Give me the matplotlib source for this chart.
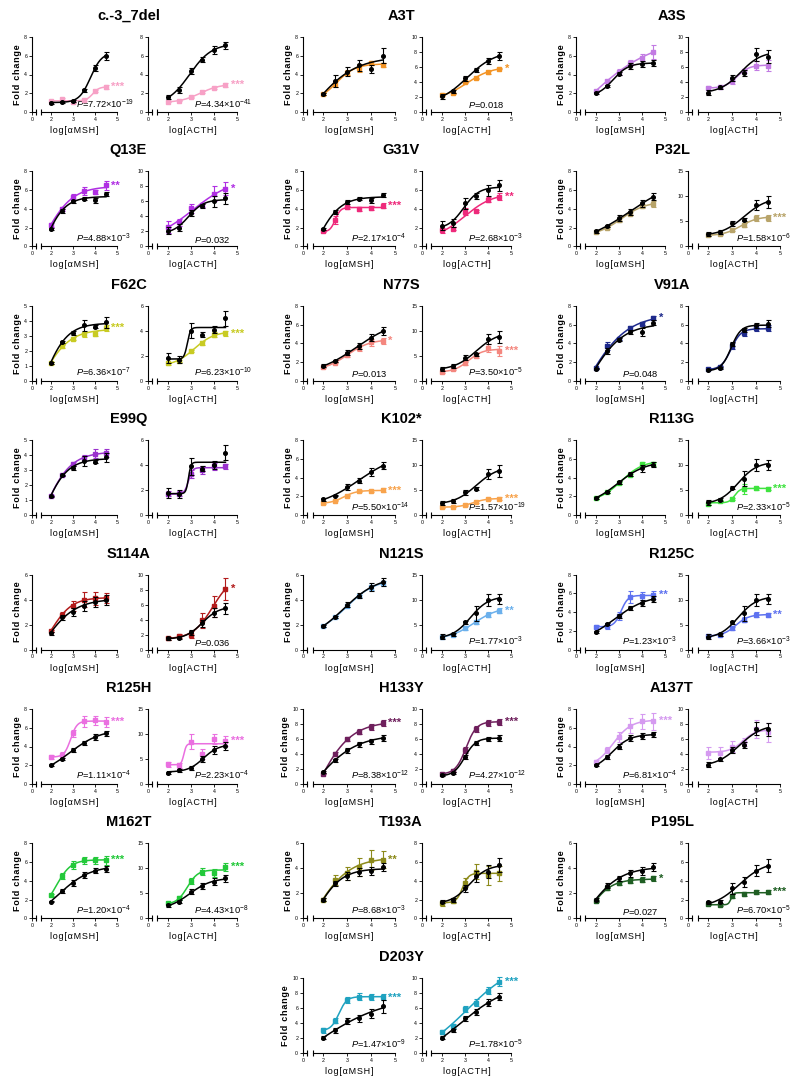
import numpy as np
import matplotlib
matplotlib.use("Agg")
import matplotlib.pyplot as plt

plt.rcParams['font.family'] = ['Liberation Sans', 'DejaVu Sans']
plt.rcParams['mathtext.fontset'] = 'custom'
plt.rcParams['mathtext.rm'] = 'Liberation Sans'
plt.rcParams['mathtext.it'] = 'Liberation Sans:italic'

# ---------------- data ----------------
doses = [2.0, 2.5, 3.0, 3.5, 4.0, 4.5]

variants = ["c.-3_7del", "A3T", "A3S", "Q13E", "G31V", "P32L", "F62C", "N77S", "V91A",
            "E99Q", "K102*", "R113G", "S114A", "N121S", "R125C", "R125H", "H133Y", "A137T",
            "M162T", "T193A", "P195L", "D203Y"]

colors = ["#F7A1C6", "#F39425", "#C27BE3", "#B02FE3", "#EE2A7B", "#B8A46A", "#C8CB23", "#F4877F",
          "#1E2A8C", "#9A32CD", "#F8A34C", "#3FE33F", "#B21B1B", "#6BB0EC", "#5E72F0", "#EA6FE0",
          "#6E1F5C", "#D59AF0", "#23C93A", "#8C8A1A", "#1F5E23", "#1FA2C0"]

msh_wt = [
    [1.0, 1.1, 1.15, 2.3, 4.7, 6.0], [1.9, 3.3, 4.3, 5.0, 4.6, 6.0], [2.0, 2.75, 4.1, 4.9, 5.1, 5.25],
    [1.9, 3.8, 4.8, 5.1, 4.9, 5.6], [1.9, 3.7, 4.7, 5.1, 4.9, 5.5], [1.6, 2.15, 3.0, 3.7, 4.6, 5.3],
    [1.2, 2.6, 3.2, 3.7, 3.6, 3.9], [1.6, 2.1, 3.0, 3.7, 4.6, 5.3], [1.3, 3.2, 4.4, 5.2, 5.2, 6.2],
    [1.25, 2.65, 3.15, 3.6, 3.55, 3.85], [1.7, 2.1, 3.0, 3.7, 4.6, 5.3], [1.85, 2.5, 3.5, 4.4, 5.0, 5.4],
    [1.3, 2.6, 3.0, 3.5, 3.8, 4.0], [1.9, 2.6, 3.6, 4.3, 5.0, 5.4], [1.9, 2.7, 3.6, 4.4, 5.0, 5.4],
    [2.0, 2.7, 3.6, 4.4, 5.0, 5.4], [1.6, 3.2, 4.5, 5.3, 5.7, 6.2], [2.0, 2.9, 4.0, 4.9, 5.1, 5.3],
    [1.8, 2.9, 3.8, 4.6, 5.1, 5.3], [1.5, 2.8, 3.4, 3.7, 3.8, 4.1], [1.5, 2.6, 3.2, 3.6, 3.8, 4.1],
    [2.0, 3.0, 4.3, 4.6, 5.2, 6.2]]
msh_wt_err = [
    [0.1, 0.1, 0.1, 0.15, 0.3, 0.4], [0.1, 0.6, 0.5, 0.6, 0.4, 0.8], [0.1, 0.1, 0.2, 0.3, 0.3, 0.3],
    [0.1, 0.2, 0.2, 0.2, 0.3, 0.2], [0.1, 0.2, 0.2, 0.2, 0.3, 0.2], [0.2, 0.1, 0.3, 0.3, 0.4, 0.4],
    [0.05, 0.05, 0.15, 0.35, 0.1, 0.35], [0.15, 0.1, 0.3, 0.3, 0.4, 0.4], [0.05, 0.3, 0.2, 0.2, 0.4, 0.3],
    [0.05, 0.05, 0.15, 0.35, 0.1, 0.3], [0.15, 0.1, 0.3, 0.3, 0.4, 0.4], [0.1, 0.1, 0.2, 0.2, 0.4, 0.3],
    [0.1, 0.2, 0.3, 0.4, 0.4, 0.4], [0.1, 0.1, 0.2, 0.2, 0.3, 0.3], [0.1, 0.1, 0.2, 0.2, 0.3, 0.3],
    [0.1, 0.1, 0.2, 0.2, 0.3, 0.3], [0.1, 0.2, 0.3, 0.3, 0.3, 0.4], [0.1, 0.2, 0.3, 0.3, 0.3, 0.3],
    [0.1, 0.2, 0.3, 0.3, 0.3, 0.3], [0.1, 0.2, 0.3, 0.3, 0.3, 0.3], [0.1, 0.2, 0.2, 0.3, 0.3, 0.3],
    [0.2, 0.3, 0.4, 0.5, 0.6, 0.9]]
msh_var = [
    [1.15, 1.35, 1.05, 1.3, 2.2, 2.65], [1.9, 3.0, 4.2, 4.7, 5.2, 5.0], [2.25, 3.3, 4.3, 5.2, 5.8, 6.4],
    [2.3, 4.0, 5.3, 5.9, 5.8, 6.5], [1.6, 2.8, 4.15, 4.0, 4.1, 4.35], [1.5, 2.0, 2.8, 3.5, 4.3, 4.5],
    [1.2, 2.3, 2.8, 3.1, 3.15, 3.55], [1.45, 1.95, 2.8, 3.5, 4.1, 4.25], [1.35, 3.7, 4.5, 5.6, 6.1, 6.7],
    [1.3, 2.65, 3.4, 3.8, 4.1, 4.15], [1.3, 1.55, 2.1, 2.55, 2.6, 2.65], [1.8, 2.5, 3.4, 4.3, 5.5, 5.5],
    [1.5, 2.8, 3.5, 4.0, 4.1, 4.1], [1.9, 2.6, 3.5, 4.3, 5.0, 5.3], [2.4, 2.5, 3.6, 5.6, 5.7, 5.8],
    [2.9, 3.1, 5.4, 6.7, 6.8, 6.6], [1.4, 4.0, 6.0, 7.0, 7.6, 8.1], [2.4, 3.6, 5.0, 6.2, 6.7, 6.7],
    [2.5, 4.5, 5.7, 6.2, 6.2, 6.2], [1.5, 3.1, 3.6, 4.1, 4.7, 4.7], [1.4, 2.4, 2.8, 3.0, 3.1, 3.2],
    [3.0, 4.3, 7.0, 7.5, 7.5, 7.4]]
msh_var_err = [
    [0.05, 0.1, 0.05, 0.1, 0.1, 0.2], [0.1, 0.3, 0.3, 0.4, 0.2, 0.2], [0.1, 0.1, 0.3, 0.3, 0.4, 0.7],
    [0.2, 0.2, 0.3, 0.4, 0.2, 0.5], [0.1, 0.4, 0.2, 0.2, 0.2, 0.3], [0.1, 0.1, 0.2, 0.2, 0.2, 0.3],
    [0.05, 0.1, 0.1, 0.15, 0.15, 0.2], [0.1, 0.1, 0.3, 0.3, 0.4, 0.3], [0.05, 0.4, 0.2, 0.2, 0.2, 0.2],
    [0.05, 0.05, 0.15, 0.2, 0.3, 0.25], [0.1, 0.05, 0.1, 0.1, 0.1, 0.2], [0.1, 0.1, 0.1, 0.1, 0.2, 0.2],
    [0.1, 0.2, 0.4, 0.6, 0.5, 0.4], [0.1, 0.1, 0.1, 0.1, 0.2, 0.2], [0.2, 0.3, 0.4, 0.6, 0.4, 0.4],
    [0.2, 0.3, 0.4, 0.6, 0.5, 0.5], [0.1, 0.3, 0.3, 0.3, 0.4, 0.4], [0.2, 0.3, 0.5, 0.8, 0.8, 0.9],
    [0.1, 0.3, 0.4, 0.4, 0.4, 0.5], [0.1, 0.4, 0.5, 0.7, 0.8, 0.7], [0.1, 0.1, 0.1, 0.2, 0.2, 0.2],
    [0.3, 0.3, 0.4, 0.5, 0.4, 0.4]]

acth_wt = [
    [1.6, 2.35, 4.4, 5.6, 6.6, 7.1], [2.1, 2.8, 4.5, 5.6, 6.8, 7.5], [2.6, 3.3, 4.5, 5.2, 7.7, 7.4],
    [2.1, 2.5, 4.5, 5.4, 6.0, 6.4], [2.2, 2.5, 4.6, 5.4, 6.0, 6.5], [2.4, 2.9, 4.6, 5.3, 8.3, 8.8],
    [1.8, 1.7, 4.0, 3.7, 4.1, 5.0], [2.4, 2.9, 4.6, 5.3, 8.3, 8.8], [1.2, 1.4, 3.9, 5.4, 5.9, 6.1],
    [1.75, 1.7, 3.9, 3.7, 4.0, 5.0], [2.4, 2.9, 4.6, 5.3, 8.3, 8.8], [2.6, 3.1, 5.5, 7.3, 10.0, 10.1],
    [1.5, 1.6, 2.3, 3.5, 4.9, 5.5], [2.6, 3.1, 5.5, 7.3, 10.0, 10.1], [2.6, 3.1, 5.5, 7.3, 10.0, 10.1],
    [2.3, 2.8, 3.2, 5.0, 6.8, 7.6], [1.2, 1.5, 3.6, 5.5, 6.0, 6.2], [2.6, 3.3, 4.5, 5.2, 7.4, 7.3],
    [2.6, 3.3, 5.3, 6.5, 7.3, 8.0], [1.8, 2.0, 3.2, 4.5, 5.0, 5.7], [1.7, 1.8, 3.2, 3.9, 5.1, 5.6],
    [2.0, 3.0, 4.6, 5.5, 6.7, 7.5]]
acth_wt_err = [
    [0.2, 0.3, 0.3, 0.25, 0.4, 0.35], [0.3, 0.2, 0.3, 0.3, 0.4, 0.5], [0.3, 0.2, 0.4, 0.4, 0.9, 0.9],
    [0.5, 0.5, 0.4, 0.3, 0.7, 0.7], [0.5, 0.4, 0.6, 0.3, 0.6, 0.6], [0.4, 0.4, 0.5, 0.3, 1.0, 1.2],
    [0.4, 0.3, 0.6, 0.2, 0.3, 0.6], [0.4, 0.4, 0.5, 0.3, 1.0, 1.2], [0.1, 0.1, 0.2, 0.2, 0.3, 0.4],
    [0.4, 0.3, 0.7, 0.2, 0.3, 0.6], [0.4, 0.4, 0.5, 0.3, 1.0, 1.2], [0.5, 0.3, 0.3, 1.5, 1.2, 1.0],
    [0.2, 0.2, 0.3, 0.5, 0.6, 0.7], [0.5, 0.3, 0.3, 1.5, 1.2, 1.0], [0.5, 0.3, 0.3, 1.5, 1.2, 1.0],
    [0.2, 0.3, 0.4, 0.6, 0.8, 0.8], [0.1, 0.1, 0.3, 0.3, 0.3, 0.4], [0.3, 0.2, 0.4, 0.4, 0.9, 0.9],
    [0.3, 0.3, 0.5, 0.6, 0.7, 0.7], [0.2, 0.2, 0.4, 0.6, 0.7, 0.7], [0.2, 0.2, 0.6, 0.5, 0.6, 0.7],
    [0.2, 0.2, 0.3, 0.4, 0.5, 0.5]]
acth_var = [
    [1.1, 1.2, 1.55, 2.15, 2.55, 2.85], [2.3, 2.5, 4.0, 4.5, 5.3, 5.8], [3.2, 3.4, 4.1, 5.5, 6.2, 6.2],
    [2.6, 3.2, 5.1, 5.5, 7.0, 7.7], [1.7, 1.9, 3.7, 3.8, 5.0, 5.3], [2.2, 2.5, 3.3, 4.2, 5.7, 5.7],
    [1.4, 1.6, 2.4, 3.0, 3.7, 3.8], [1.8, 2.3, 3.5, 5.0, 6.5, 6.0], [1.3, 1.5, 3.7, 5.1, 5.6, 5.6],
    [1.7, 1.7, 3.3, 3.6, 3.9, 3.9], [1.6, 1.7, 2.0, 2.7, 3.2, 3.3], [2.2, 2.8, 3.3, 5.3, 5.4, 5.3],
    [1.5, 1.8, 2.0, 3.9, 5.8, 8.1], [2.5, 3.0, 4.3, 5.5, 7.0, 7.8], [2.8, 3.0, 4.3, 6.0, 7.0, 6.9],
    [4.0, 3.8, 8.5, 6.0, 9.0, 8.7], [1.4, 1.8, 4.5, 7.4, 8.2, 8.3], [4.2, 4.2, 5.0, 5.6, 7.3, 6.9],
    [3.0, 4.0, 7.4, 9.3, 9.0, 10.3], [1.6, 1.9, 3.8, 5.0, 4.6, 4.8], [1.5, 1.4, 2.4, 2.6, 2.8, 2.8],
    [2.8, 3.6, 5.9, 6.7, 8.3, 9.5]]
acth_var_err = [
    [0.05, 0.05, 0.05, 0.1, 0.1, 0.2], [0.2, 0.1, 0.1, 0.1, 0.2, 0.1], [0.3, 0.2, 0.3, 0.3, 0.6, 0.7],
    [0.8, 0.5, 0.6, 0.3, 1.0, 0.9], [0.3, 0.2, 0.4, 0.1, 0.3, 0.4], [0.2, 0.2, 0.3, 0.4, 0.6, 0.6],
    [0.1, 0.1, 0.1, 0.15, 0.2, 0.2], [0.3, 0.2, 0.3, 0.5, 0.8, 1.0], [0.1, 0.1, 0.3, 0.3, 0.3, 0.3],
    [0.2, 0.2, 0.3, 0.3, 0.3, 0.2], [0.1, 0.1, 0.1, 0.2, 0.2, 0.3], [0.2, 0.2, 0.2, 1.0, 0.3, 0.3],
    [0.2, 0.3, 0.5, 1.0, 1.4, 1.5], [0.2, 0.2, 0.3, 0.4, 0.5, 0.5], [0.2, 0.2, 0.3, 0.5, 0.5, 0.4],
    [0.5, 0.5, 1.5, 1.0, 1.0, 1.0], [0.1, 0.2, 0.4, 0.4, 0.4, 0.4], [0.8, 0.7, 0.7, 0.5, 1.2, 1.3],
    [0.3, 0.4, 0.6, 0.7, 0.8, 0.8], [0.3, 0.3, 0.5, 0.8, 1.0, 0.8], [0.1, 0.1, 0.2, 0.2, 0.2, 0.2],
    [0.3, 0.3, 0.4, 0.5, 0.5, 0.6]]

ymax_msh = [8, 8, 8, 8, 8, 8, 5, 8, 8, 5, 8, 8, 6, 6, 8, 8, 10, 8, 8, 6, 6, 10]
ymax_acth = [8, 10, 10, 10, 8, 15, 6, 15, 8, 6, 15, 15, 10, 15, 15, 15, 10, 10, 15, 8, 8, 10]

p_msh = ["7.72e-19", "", "", "4.88e-3", "2.17e-4", "", "6.36e-7", "0.013", "0.048", "",
         "5.50e-14", "", "", "", "1.23e-3", "1.11e-4", "8.38e-12", "6.81e-4", "1.20e-4",
         "8.68e-3", "0.027", "1.47e-9"]
p_acth = ["4.34e-41", "0.018", "", "0.032", "2.68e-3", "1.58e-6", "6.23e-10", "3.50e-5", "", "",
          "1.57e-19", "2.33e-5", "0.036", "1.77e-3", "3.66e-3", "2.23e-4", "4.27e-12", "",
          "4.43e-8", "", "6.70e-5", "1.78e-5"]
stars_msh = ["***", "", "", "**", "***", "", "***", "*", "*", "", "***", "", "", "", "**", "***",
             "***", "***", "***", "**", "*", "***"]
stars_acth = ["***", "*", "", "*", "**", "***", "***", "***", "", "", "***", "***", "*", "**", "**",
              "***", "***", "", "***", "", "***", "***"]

xlabels = ["log[αMSH]", "log[ACTH]"]

# ---------------- layout ----------------
W, H = 800, 1081
fig = plt.figure(figsize=(W / 100, H / 100), dpi=100)

col_px = [((32, 117), (148, 237)), ((303, 395), (422, 511)), ((576, 665), (688, 780))]
X0 = 1.15   # position of the "0" tick (broken axis)
HS = "\u200A"


def spaced(s):
    return HS.join(list(s))


def fit4pl(x, y):
    x = np.asarray(x, float)
    y = np.asarray(y, float)
    cs = np.linspace(1.6, 5.0, 69)
    hs = np.linspace(0.3, 8.0, 78)
    C, Hh = np.meshgrid(cs, hs)
    C = C.ravel()[:, None]
    Hh = Hh.ravel()[:, None]
    S = 1.0 / (1.0 + 10 ** ((C - x[None, :]) * Hh))
    sm = S.mean(axis=1, keepdims=True)
    ym = y.mean()
    var = ((S - sm) ** 2).sum(axis=1)
    cov = ((S - sm) * (y - ym)).sum(axis=1)
    slope = np.where(var > 1e-12, cov / np.maximum(var, 1e-12), 0.0)
    inter = ym - slope * sm[:, 0]
    pred = inter[:, None] + slope[:, None] * S
    sse = ((pred - y) ** 2).sum(axis=1)
    k = np.argmin(sse)
    return inter[k], slope[k], C[k, 0], Hh[k, 0]


def curve(x, y):
    b, a, c, h = fit4pl(x, y)
    xs = np.linspace(min(x), max(x), 200)
    return xs, b + a / (1 + 10 ** ((c - xs) * h))


def ptext(s):
    if not s:
        return ""
    if "e" in s:
        m, e = s.split("e")
        return "$P$=" + m + "×10$^{" + str(int(e)) + "}$"
    return "$P$=" + s


def draw_axis(ax, wt, wte, var, vare, color, ymax, p, stars, xlabel, show_ylabel):
    # variant
    xs, ys = curve(doses, var)
    ax.plot(xs, ys, color=color, lw=1.1, zorder=2, clip_on=False)
    ax.errorbar(doses, var, yerr=vare, fmt='s', color=color, ms=2.8, elinewidth=0.8,
                capsize=1.8, capthick=0.8, zorder=3, clip_on=False)
    # WT
    xs, ys = curve(doses, wt)
    ax.plot(xs, ys, color='black', lw=1.1, zorder=4, clip_on=False)
    ax.errorbar(doses, wt, yerr=wte, fmt='o', color='black', ms=2.6, elinewidth=0.8,
                capsize=1.8, capthick=0.8, zorder=5, clip_on=False)

    ax.set_xlim(X0, 5.0)
    ax.set_ylim(0, ymax)
    step = 5 if ymax == 15 else (1 if ymax == 5 else 2)
    ax.set_yticks(np.arange(0, ymax + 0.01, step))
    ax.set_yticklabels([str(int(v)) for v in np.arange(0, ymax + 0.01, step)])
    ax.set_xticks([X0, 2, 3, 4, 5])
    ax.set_xticklabels(["0", "2", "3", "4", "5"])
    for sp in ['top', 'right']:
        ax.spines[sp].set_visible(False)
    ax.spines['left'].set_linewidth(0.8)
    ax.spines['bottom'].set_linewidth(0.8)
    ax.spines['bottom'].set_bounds(1.55, 5.0)
    ax.tick_params(direction='out', length=2, width=0.6, labelsize=3.8, pad=1.5)
    # broken axis piece
    ax.plot([X0, 1.33], [0, 0], color='black', lw=0.8, clip_on=False,
            transform=ax.get_xaxis_transform(), zorder=6)
    ax.plot([1.33, 1.55], [0, 0], ls='none', marker='|', ms=4, mew=0.8, color='black',
            clip_on=False, transform=ax.get_xaxis_transform(), zorder=6)

    ax.set_xlabel(spaced(xlabel), fontsize=6.5, labelpad=3)
    if show_ylabel:
        ax.set_ylabel(spaced("Fold change"), fontsize=6.5, fontweight='bold', labelpad=1.5)
    if p:
        ax.text(3.15, 0.02, ptext(p), transform=ax.get_xaxis_transform(), fontsize=6.7,
                ha='left', va='bottom', clip_on=False)
    if stars:
        ax.annotate(stars, xy=(4.72, var[-1]), xytext=(0, -2.2), textcoords='offset points',
                    fontsize=8, fontweight='bold', color=color, ha='left', va='baseline',
                    annotation_clip=False)


for i, name in enumerate(variants):
    if i < 21:
        r, c = divmod(i, 3)
    else:
        r, c = 7, 1
    ty = 16 + 134.4 * r
    top = ty + 21
    bot = ty + 96
    (l0, l1), (r0, r1) = col_px[c]
    axL = fig.add_axes([l0 / W, 1 - bot / H, (l1 - l0) / W, (bot - top) / H])
    axR = fig.add_axes([r0 / W, 1 - bot / H, (r1 - r0) / W, (bot - top) / H])
    draw_axis(axL, msh_wt[i], msh_wt_err[i], msh_var[i], msh_var_err[i], colors[i],
              ymax_msh[i], p_msh[i], stars_msh[i], xlabels[0], True)
    draw_axis(axR, acth_wt[i], acth_wt_err[i], acth_var[i], acth_var_err[i], colors[i],
              ymax_acth[i], p_acth[i], stars_acth[i], xlabels[1], False)
    cx = (l0 + r1) / 2 - 6
    fig.text(cx / W, 1 - ty / H, name, ha='center', va='center', fontsize=10.5,
             fontweight='bold')

fig.savefig("out.png", dpi=100)
